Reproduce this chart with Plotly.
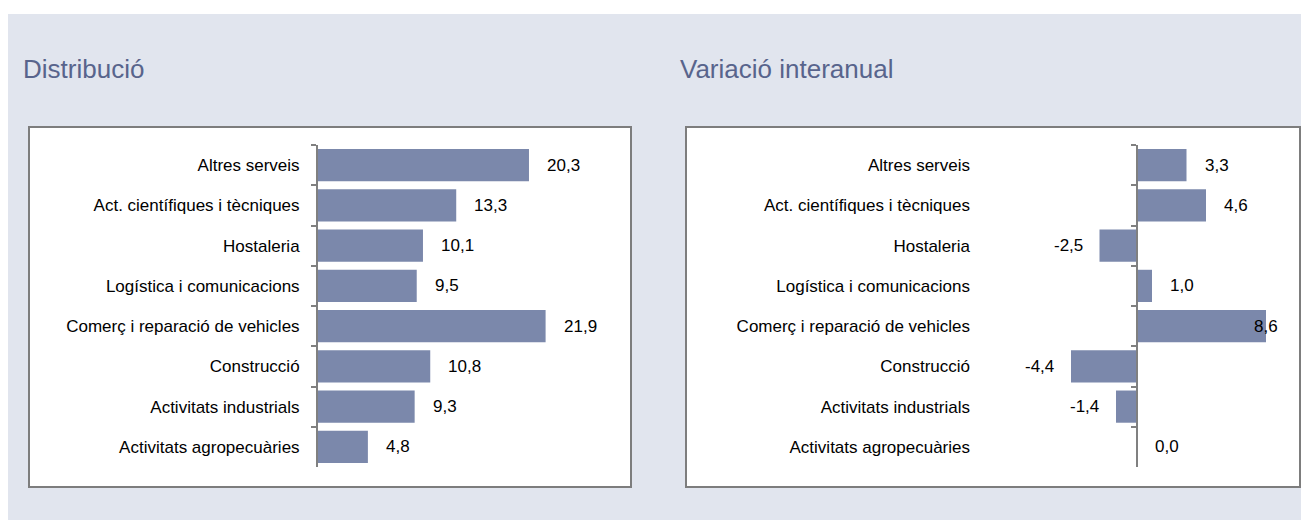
import plotly.graph_objects as go

# Dades
categories = ['Altres serveis', 'Act. científiques i tècniques', 'Hostaleria',
              'Logística i comunicacions', 'Comerç i reparació de vehicles',
              'Construcció', 'Activitats industrials', 'Activitats agropecuàries']
distribucio = [20.3, 13.3, 10.1, 9.5, 21.9, 10.8, 9.3, 4.8]
variacio = [3.3, 4.6, -2.5, 1.0, 8.6, -4.4, -1.4, 0.0]

# la pàgina té 8 px de marge al body
OFF = 8
W, H = 1309 - OFF, 520 - OFF
bar_color = 'rgb(123,136,171)'
title_color = 'rgb(88,100,140)'
font_family = 'Liberation Sans, Arial, sans-serif'

# Rangs dels eixos
rang_esq = [0, 28]
rang_dre = [-10, 10]


def px_x(p):
    return (p - OFF) / W


def px_y(p):
    return 1 - (p - OFF) / H


def fmt(v):
    return f'{v:.1f}'.replace('.', ',')


fig = go.Figure()

# Gràfic esquerre: distribució
fig.add_trace(go.Bar(x=distribucio, y=categories, orientation='h',
                     marker=dict(color=bar_color, line=dict(width=0)), xaxis='x', yaxis='y',
                     hovertemplate='%{y}: %{x}<extra></extra>'))

# Gràfic dret: variació interanual
fig.add_trace(go.Bar(x=variacio, y=categories, orientation='h',
                     marker=dict(color=bar_color, line=dict(width=0)),
                     xaxis='x2', yaxis='y2',
                     hovertemplate='%{y}: %{x}<extra></extra>'))
# còpia invisible per a l'eix del zero
fig.add_trace(go.Bar(x=variacio, y=categories, orientation='h',
                     marker=dict(color='rgba(0,0,0,0)', line=dict(width=0)),
                     xaxis='x2', yaxis='y4', hoverinfo='skip', showlegend=False))

# Etiquetes de valor
annotations = []
for v, c in zip(distribucio, categories):
    annotations.append(dict(x=v, y=c, xref='x', yref='y', text=fmt(v),
                            xanchor='left', xshift=16, showarrow=False,
                            font=dict(size=17, color='black', family=font_family)))

limit = rang_dre[1] - 0.35
for v, c in zip(variacio, categories):
    a = dict(y=c, xref='x2', yref='y2', text=fmt(v), showarrow=False,
             font=dict(size=17, color='black', family=font_family))
    if v < 0:
        a.update(x=v, xanchor='right', xshift=-15)
    elif v + 43 / 15 > limit:
        a.update(x=rang_dre[1], xanchor='right', xshift=-7)
    else:
        a.update(x=v, xanchor='left', xshift=16)
    annotations.append(a)

# Títols
annotations.append(dict(x=px_x(21), y=px_y(69), xref='paper', yref='paper',
                        text='Distribució', xanchor='left', yanchor='middle',
                        showarrow=False, font=dict(size=26, color=title_color, family=font_family)))
annotations.append(dict(x=px_x(678), y=px_y(69), xref='paper', yref='paper',
                        text='Variació interanual', xanchor='left', yanchor='middle',
                        showarrow=False, font=dict(size=26, color=title_color, family=font_family)))

# Fons i requadres
shapes = [
    dict(type='rect', xref='paper', yref='paper', x0=px_x(7), x1=1, y0=0, y1=px_y(14),
         fillcolor='rgb(225,229,238)', line=dict(width=0), layer='below'),
    dict(type='rect', xref='paper', yref='paper', x0=px_x(29), x1=px_x(631),
         y0=px_y(487), y1=px_y(127), fillcolor='white',
         line=dict(color='rgb(125,125,125)', width=2), layer='below'),
    dict(type='rect', xref='paper', yref='paper', x0=px_x(686), x1=px_x(1300),
         y0=px_y(487), y1=px_y(127), fillcolor='white',
         line=dict(color='rgb(125,125,125)', width=2), layer='below'),
]

y_domain = [px_y(467), px_y(145)]
x_esq = [px_x(318), px_x(609)]
x_dre = [px_x(987), px_x(1287)]
zero_pos = x_dre[0] + (0 - rang_dre[0]) / (rang_dre[1] - rang_dre[0]) * (x_dre[1] - x_dre[0])

axis_line = dict(showline=True, linecolor='rgb(128,128,128)', linewidth=2,
                 ticks='outside', ticklen=5, tickwidth=2, tickcolor='rgb(128,128,128)',
                 tickson='boundaries')

fig.update_layout(
    width=W, height=H,
    margin=dict(l=0, r=0, t=0, b=0),
    paper_bgcolor='white',
    plot_bgcolor='rgba(0,0,0,0)',
    showlegend=False,
    bargap=0.2,
    font=dict(family=font_family, size=17, color='black'),
    xaxis=dict(domain=x_esq, range=rang_esq, visible=False, anchor='y'),
    yaxis=dict(domain=y_domain, anchor='x', autorange='reversed', type='category',
               ticklabelstandoff=13, showgrid=False, **axis_line),
    xaxis2=dict(domain=x_dre, range=rang_dre, visible=False, anchor='y2'),
    yaxis2=dict(domain=y_domain, anchor='x2', autorange='reversed', type='category',
                showline=False, ticks='', showgrid=False, ticklabelstandoff=16),
    yaxis4=dict(domain=y_domain, overlaying='y2', anchor='free', position=zero_pos,
                side='left', autorange='reversed', type='category', showgrid=False,
                showticklabels=False, **axis_line),
    annotations=annotations,
    shapes=shapes,
)

fig.write_html('out.html')
